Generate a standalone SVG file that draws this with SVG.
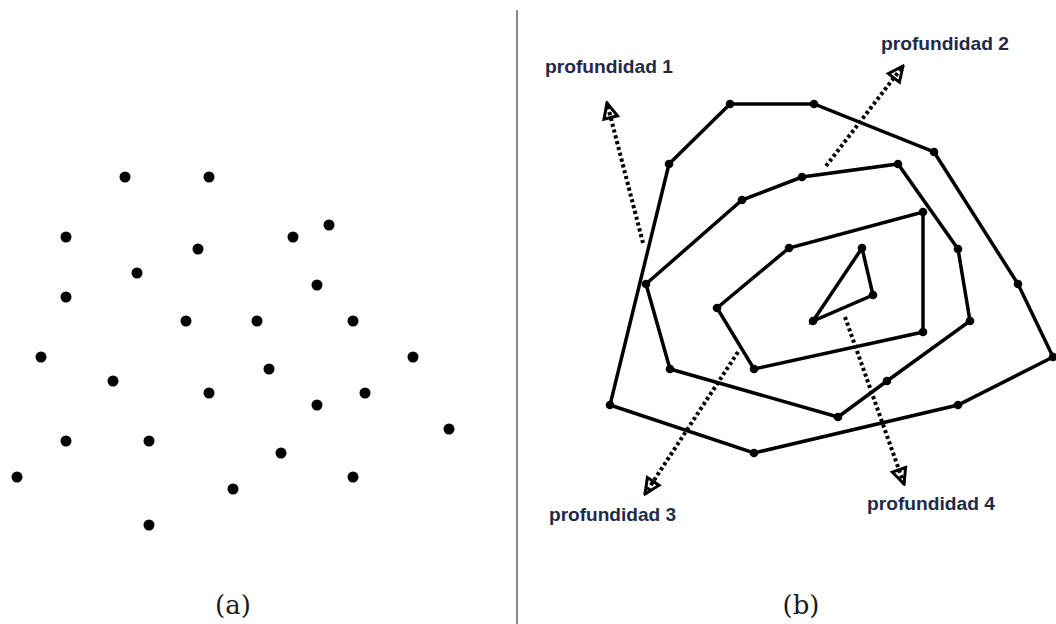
<svg xmlns="http://www.w3.org/2000/svg" width="1056" height="624" viewBox="0 0 1056 624">
<style>
.pt{fill:#000}
.vx{fill:#000}
.hull{fill:none;stroke:#000;stroke-width:3.5;stroke-linejoin:miter}
.dot{fill:none;stroke:#000;stroke-width:4;stroke-dasharray:3.2 2.8}
.lbl{font-family:"Liberation Sans",Arial,sans-serif;font-weight:bold;font-size:19px;fill:#1f2a48}
.cap{font-family:"DejaVu Serif",serif;font-size:26px;fill:#1a1a1a}
</style>
<defs>
<marker id="ah" viewBox="0 0 20 20" refX="18" refY="10" markerWidth="20" markerHeight="20" markerUnits="userSpaceOnUse" orient="auto">
<path d="M3,3 L18,10 L3,17 Z" fill="none" stroke="#000" stroke-width="3" stroke-linejoin="miter"/>
</marker>
</defs>
<rect width="1056" height="624" fill="#fff"/>
<line x1="517" y1="10" x2="517" y2="624" stroke="#8a8a8a" stroke-width="2"/>
<g id="panel-a">
<circle class="pt" cx="125" cy="177" r="5.5"/>
<circle class="pt" cx="209" cy="177" r="5.5"/>
<circle class="pt" cx="66" cy="237" r="5.5"/>
<circle class="pt" cx="329" cy="225" r="5.5"/>
<circle class="pt" cx="293" cy="237" r="5.5"/>
<circle class="pt" cx="198" cy="249" r="5.5"/>
<circle class="pt" cx="137" cy="273" r="5.5"/>
<circle class="pt" cx="317" cy="285" r="5.5"/>
<circle class="pt" cx="66" cy="297" r="5.5"/>
<circle class="pt" cx="186" cy="321" r="5.5"/>
<circle class="pt" cx="257" cy="321" r="5.5"/>
<circle class="pt" cx="353" cy="321" r="5.5"/>
<circle class="pt" cx="41" cy="357" r="5.5"/>
<circle class="pt" cx="413" cy="357" r="5.5"/>
<circle class="pt" cx="269" cy="369" r="5.5"/>
<circle class="pt" cx="113" cy="381" r="5.5"/>
<circle class="pt" cx="209" cy="393" r="5.5"/>
<circle class="pt" cx="365" cy="393" r="5.5"/>
<circle class="pt" cx="317" cy="405" r="5.5"/>
<circle class="pt" cx="449" cy="429" r="5.5"/>
<circle class="pt" cx="66" cy="441" r="5.5"/>
<circle class="pt" cx="149" cy="441" r="5.5"/>
<circle class="pt" cx="281" cy="453" r="5.5"/>
<circle class="pt" cx="17" cy="477" r="5.5"/>
<circle class="pt" cx="353" cy="477" r="5.5"/>
<circle class="pt" cx="233" cy="489" r="5.5"/>
<circle class="pt" cx="149" cy="525" r="5.5"/>
</g>
<g id="connectors">
<line class="dot" x1="643" y1="243" x2="607" y2="103" marker-end="url(#ah)"/>
<line class="dot" x1="826" y1="166" x2="903" y2="66" marker-end="url(#ah)"/>
<line class="dot" x1="738" y1="352" x2="645" y2="494" marker-end="url(#ah)"/>
<line class="dot" x1="845" y1="317" x2="904" y2="484" marker-end="url(#ah)"/>
</g>
<g id="depth1">
<polygon class="hull" points="669,164 730,104 814,104 934,152 1018,284 1053,357 958,405 754,453 610,405"/>
<g class="vx"><circle cx="669" cy="164" r="4.3"/><circle cx="730" cy="104" r="4.3"/><circle cx="814" cy="104" r="4.3"/><circle cx="934" cy="152" r="4.3"/><circle cx="1018" cy="284" r="4.3"/><circle cx="1053" cy="357" r="4.3"/><circle cx="958" cy="405" r="4.3"/><circle cx="754" cy="453" r="4.3"/><circle cx="610" cy="405" r="4.3"/></g>
</g>
<g id="depth2">
<polygon class="hull" points="646,284 742,200 802,177 898,164 958,249 970,321 887,381 838,417 670,369"/>
<g class="vx"><circle cx="646" cy="284" r="4.3"/><circle cx="742" cy="200" r="4.3"/><circle cx="802" cy="177" r="4.3"/><circle cx="898" cy="164" r="4.3"/><circle cx="958" cy="249" r="4.3"/><circle cx="970" cy="321" r="4.3"/><circle cx="887" cy="381" r="4.3"/><circle cx="838" cy="417" r="4.3"/><circle cx="670" cy="369" r="4.3"/></g>
</g>
<g id="depth3">
<polygon class="hull" points="717,308 789,248 923,212 923,332 754,369"/>
<g class="vx"><circle cx="717" cy="308" r="4.3"/><circle cx="789" cy="248" r="4.3"/><circle cx="923" cy="212" r="4.3"/><circle cx="923" cy="332" r="4.3"/><circle cx="754" cy="369" r="4.3"/></g>
</g>
<g id="depth4">
<polygon class="hull" points="862,248 873,295 813,321"/>
<g class="vx"><circle cx="862" cy="248" r="4.3"/><circle cx="873" cy="295" r="4.3"/><circle cx="813" cy="321" r="4.3"/></g>
</g>
<g id="labels">
<text class="lbl" x="545" y="73" textLength="128" lengthAdjust="spacingAndGlyphs">profundidad 1</text>
<text class="lbl" x="881" y="50" textLength="128" lengthAdjust="spacingAndGlyphs">profundidad 2</text>
<text class="lbl" x="549" y="521" textLength="127" lengthAdjust="spacingAndGlyphs">profundidad 3</text>
<text class="lbl" x="867" y="510" textLength="128" lengthAdjust="spacingAndGlyphs">profundidad 4</text>
</g>
<text class="cap" x="233" y="614" text-anchor="middle">(a)</text>
<text class="cap" x="801" y="614" text-anchor="middle">(b)</text>
</svg>
